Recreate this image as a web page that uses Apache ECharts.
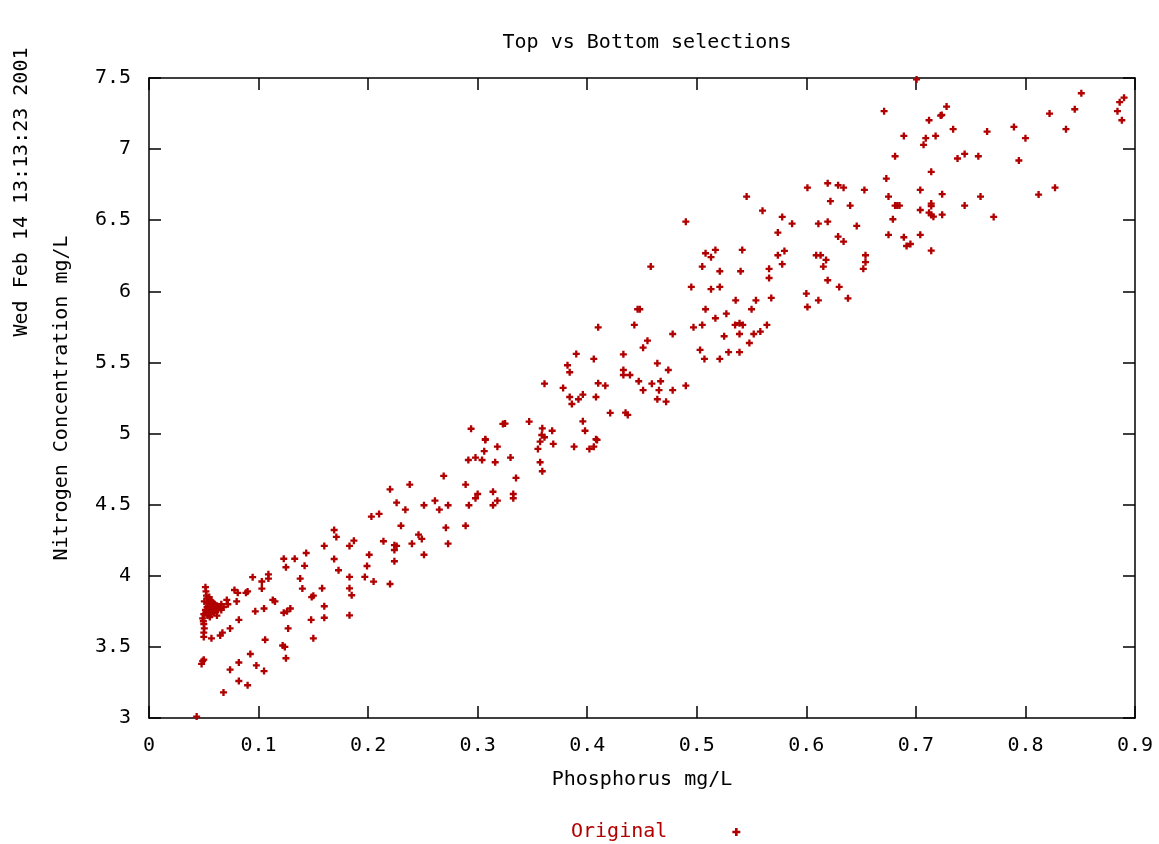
<!DOCTYPE html>
<html>
<head>
<meta charset="utf-8">
<script src="https://cdn.jsdelivr.net/npm/echarts@6/dist/echarts.min.js"></script>
<style>
  html, body { margin: 0; background: #fff; }
  #main { width: 1159px; height: 844px; }
</style>
</head>
<body>
<div id="main"></div>
<script>
// Top vs Bottom selections - 散点图 (Phosphorus vs Nitrogen)

// 数据: [磷 mg/L, 氮 mg/L]
// x < 0.15, 左下角密集区
const lowPoints = [
    [0.0435, 3.01], [0.068, 3.18], [0.082, 3.26], [0.090, 3.23], [0.074, 3.34],
    [0.082, 3.39], [0.0925, 3.45], [0.098, 3.37], [0.105, 3.33],
    [0.048, 3.38], [0.050, 3.41], [0.049, 3.40],
    [0.106, 3.55], [0.122, 3.51], [0.124, 3.50], [0.125, 3.42], [0.150, 3.56],
    [0.148, 3.69], [0.127, 3.63], [0.123, 3.74], [0.126, 3.75], [0.129, 3.77],
    [0.113, 3.83], [0.115, 3.82], [0.105, 3.77], [0.097, 3.75], [0.082, 3.69],
    [0.074, 3.63], [0.065, 3.58], [0.067, 3.60], [0.057, 3.56],
    [0.050, 3.57], [0.050, 3.60], [0.0505, 3.63], [0.050, 3.66], [0.0496, 3.68],
    [0.0515, 3.92], [0.052, 3.89], [0.0525, 3.86], [0.053, 3.84], [0.0505, 3.82],
    [0.054, 3.81], [0.0555, 3.83], [0.056, 3.80], [0.0575, 3.79], [0.059, 3.78],
    [0.060, 3.80], [0.061, 3.77], [0.062, 3.79], [0.053, 3.78], [0.0545, 3.76],
    [0.056, 3.75], [0.058, 3.76], [0.0595, 3.74], [0.052, 3.74], [0.050, 3.73],
    [0.0535, 3.72], [0.0555, 3.71], [0.057, 3.73], [0.063, 3.76], [0.064, 3.78],
    [0.0655, 3.77], [0.0515, 3.76], [0.049, 3.70], [0.055, 3.85], [0.057, 3.82],
    [0.066, 3.80], [0.054, 3.79], [0.0585, 3.81], [0.066, 3.76], [0.062, 3.72],
    [0.068, 3.78], [0.071, 3.83], [0.072, 3.80], [0.078, 3.90], [0.081, 3.88],
    [0.080, 3.82], [0.0885, 3.88], [0.090, 3.89], [0.0946, 3.99],
    [0.103, 3.96], [0.103, 3.91], [0.109, 4.01], [0.109, 3.98],
    [0.123, 4.12], [0.125, 4.06], [0.133, 4.12], [0.142, 4.07], [0.1435, 4.16],
    [0.138, 3.98], [0.140, 3.91], [0.150, 3.86], [0.1485, 3.85]
];

// 0.15 - 0.41
const midLowPoints = [
    [0.160, 3.705], [0.160, 3.786], [0.183, 3.722], [0.158, 3.912], [0.160, 4.210],
    [0.169, 4.322], [0.171, 4.273], [0.169, 4.118], [0.173, 4.039], [0.183, 3.992],
    [0.183, 3.912], [0.185, 3.863], [0.183, 4.210], [0.187, 4.247], [0.201, 4.148],
    [0.199, 4.069], [0.197, 3.992], [0.205, 3.959], [0.220, 3.942], [0.214, 4.243],
    [0.203, 4.416], [0.210, 4.435], [0.220, 4.608], [0.226, 4.514], [0.234, 4.465],
    [0.230, 4.352], [0.226, 4.210], [0.224, 4.181], [0.224, 4.215], [0.224, 4.102],
    [0.238, 4.641], [0.240, 4.226], [0.246, 4.289], [0.249, 4.259], [0.251, 4.148],
    [0.251, 4.496], [0.261, 4.528], [0.265, 4.465], [0.273, 4.496], [0.269, 4.702],
    [0.271, 4.338], [0.273, 4.226], [0.289, 4.641], [0.292, 4.496], [0.289, 4.352],
    [0.298, 4.545], [0.300, 4.575], [0.314, 4.591], [0.314, 4.496], [0.318, 4.528],
    [0.3325, 4.575], [0.3325, 4.545], [0.335, 4.688],
    [0.2915, 4.814], [0.298, 4.831], [0.304, 4.814], [0.306, 4.876], [0.307, 4.955],
    [0.318, 4.908], [0.316, 4.798], [0.330, 4.831], [0.357, 4.943], [0.355, 4.892],
    [0.357, 4.798], [0.359, 4.735], [0.369, 4.927], [0.388, 4.908],
    [0.402, 4.892], [0.406, 4.908], [0.409, 4.955],
    [0.323, 5.068], [0.325, 5.070], [0.307, 4.960], [0.294, 5.034]
];

// 0.34 - 0.45
const midPoints = [
    [0.410, 5.747], [0.390, 5.560], [0.406, 5.525], [0.382, 5.480], [0.384, 5.431],
    [0.361, 5.351], [0.378, 5.321], [0.384, 5.257], [0.386, 5.208], [0.392, 5.241],
    [0.396, 5.274], [0.410, 5.354], [0.4165, 5.337], [0.408, 5.257], [0.421, 5.145],
    [0.396, 5.086], [0.398, 5.020], [0.408, 4.960], [0.347, 5.084], [0.359, 5.037],
    [0.361, 4.974], [0.3585, 4.990], [0.368, 5.020]
];

// 0.43 - 0.66
const midHighPoints = [
    [0.458, 6.174], [0.495, 6.031], [0.505, 6.174], [0.508, 6.268], [0.513, 6.240],
    [0.517, 6.291], [0.521, 6.141], [0.540, 6.141], [0.5415, 6.291], [0.513, 6.015],
    [0.521, 6.031], [0.566, 6.158], [0.566, 6.094], [0.574, 6.254], [0.578, 6.191],
    [0.580, 6.284], [0.568, 5.954], [0.5355, 5.937], [0.554, 5.937], [0.550, 5.874],
    [0.508, 5.874], [0.517, 5.811], [0.527, 5.843], [0.535, 5.764], [0.539, 5.776],
    [0.542, 5.764], [0.564, 5.764], [0.558, 5.717], [0.552, 5.700], [0.548, 5.637],
    [0.539, 5.700], [0.525, 5.684], [0.505, 5.764], [0.497, 5.747], [0.503, 5.588],
    [0.507, 5.525], [0.521, 5.525], [0.529, 5.572], [0.539, 5.572], [0.478, 5.700],
    [0.446, 5.874], [0.448, 5.874], [0.443, 5.764], [0.455, 5.653], [0.451, 5.604],
    [0.433, 5.557], [0.433, 5.447], [0.433, 5.412], [0.439, 5.412], [0.464, 5.494],
    [0.474, 5.447], [0.447, 5.368], [0.459, 5.351], [0.467, 5.368], [0.451, 5.305],
    [0.4655, 5.305], [0.478, 5.305], [0.490, 5.337], [0.464, 5.241], [0.472, 5.224],
    [0.435, 5.147], [0.437, 5.131],
    [0.600, 5.984], [0.601, 5.890], [0.611, 5.937], [0.6195, 6.078], [0.630, 6.031],
    [0.638, 5.951], [0.609, 6.254], [0.613, 6.254], [0.618, 6.221], [0.6155, 6.174],
    [0.654, 6.254], [0.654, 6.205], [0.652, 6.158],
    [0.5455, 6.666], [0.560, 6.567], [0.578, 6.523], [0.587, 6.476], [0.574, 6.413],
    [0.490, 6.490]
];

// x > 0.6, 右上角
const highPoints = [
    [0.7006, 7.49], [0.671, 7.267], [0.689, 7.093], [0.681, 6.950], [0.728, 7.299],
    [0.7226, 7.236], [0.7236, 7.240], [0.712, 7.203], [0.734, 7.140], [0.718, 7.093],
    [0.709, 7.077], [0.707, 7.030], [0.738, 6.934], [0.714, 6.840], [0.673, 6.793],
    [0.704, 6.713], [0.724, 6.683], [0.675, 6.666], [0.681, 6.603], [0.683, 6.603],
    [0.685, 6.603], [0.714, 6.617], [0.714, 6.600], [0.704, 6.572], [0.712, 6.553],
    [0.714, 6.537], [0.716, 6.525], [0.724, 6.539], [0.679, 6.507], [0.675, 6.397],
    [0.689, 6.380], [0.6915, 6.319], [0.695, 6.333], [0.704, 6.397], [0.714, 6.286],
    [0.601, 6.729], [0.6195, 6.760], [0.629, 6.746], [0.634, 6.729], [0.622, 6.634],
    [0.640, 6.603], [0.653, 6.713], [0.611, 6.476], [0.6195, 6.490], [0.646, 6.460],
    [0.629, 6.385], [0.634, 6.350],
    [0.851, 7.393], [0.845, 7.280], [0.822, 7.250], [0.837, 7.140], [0.890, 7.362],
    [0.886, 7.330], [0.884, 7.267], [0.888, 7.203], [0.765, 7.123], [0.7895, 7.156],
    [0.800, 7.077], [0.7445, 6.966], [0.757, 6.950], [0.794, 6.920], [0.7445, 6.603],
    [0.759, 6.666], [0.771, 6.523], [0.812, 6.680], [0.827, 6.729]
];

const xRange = [0, 0.9, 0.1];
const yRange = [3, 7.5, 0.5];

const FONT = 'DejaVu Sans Mono';
const RED = '#b00000';
const plusIcon = 'path://M2,0H4V2H6V4H4V6H2V4H0V2H2Z';

const myChart = echarts.init(document.getElementById('main'));

// 坐标轴 (gnuplot 风格, 四边都有刻度)
function makeAxis(range, position, showLabel, extra) {
    return Object.assign({
        type: 'value',
        position: position,
        min: range[0],
        max: range[1],
        interval: range[2],
        axisLine: {show: true, onZero: false, lineStyle: {color: '#000', width: 1.5}},
        axisTick: {show: true, inside: true, length: 12, lineStyle: {color: '#000', width: 1.5}},
        axisLabel: {show: showLabel, margin: 18, color: '#000', fontFamily: FONT, fontSize: 20},
        splitLine: {show: false}
    }, extra || {});
}

const option = {
    backgroundColor: '#fff',
    animation: false,
    title: {
        text: 'Top vs Bottom selections',
        left: 642,
        top: 28,
        textAlign: 'center',
        textStyle: {fontFamily: FONT, fontSize: 20, fontWeight: 'normal', color: '#000'}
    },
    graphic: [{
        type: 'text',
        x: 22,
        y: 192,
        rotation: Math.PI / 2,
        style: {
            text: 'Wed Feb 14 13:13:23 2001',
            font: '20px "DejaVu Sans Mono"',
            fill: '#000',
            align: 'center',
            verticalAlign: 'middle'
        }
    }],
    legend: {
        data: [{name: 'Original', icon: plusIcon}],
        left: 566,
        top: 817,
        align: 'right',
        itemWidth: 8,
        itemHeight: 8,
        textStyle: {fontFamily: FONT, fontSize: 20, color: RED, padding: [0, 60, 0, 0]}
    },
    grid: {left: 149, right: 24, top: 78, bottom: 126},
    xAxis: [
        makeAxis(xRange, 'bottom', true, {
            name: 'Phosphorus mg/L',
            nameLocation: 'middle',
            nameGap: 52,
            nameTextStyle: {fontFamily: FONT, fontSize: 20, color: '#000'}
        }),
        makeAxis(xRange, 'top', false)
    ],
    yAxis: [
        makeAxis(yRange, 'left', true, {
            name: 'Nitrogen Concentration mg/L',
            nameLocation: 'middle',
            nameGap: 77,
            nameTextStyle: {fontFamily: FONT, fontSize: 20, color: '#000'}
        }),
        makeAxis(yRange, 'right', false)
    ],
    series: [{
        name: 'Original',
        type: 'scatter',
        symbol: plusIcon,
        symbolSize: 7,
        itemStyle: {color: RED, opacity: 1},
        data: [].concat(lowPoints, midLowPoints, midPoints, midHighPoints, highPoints)
    }]
};

myChart.setOption(option);
</script>
</body>
</html>
